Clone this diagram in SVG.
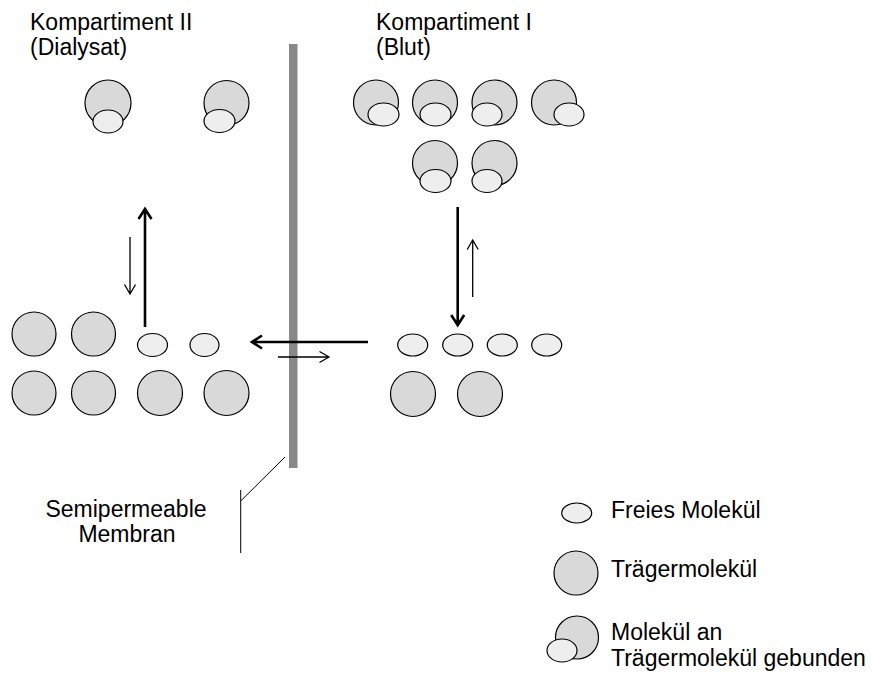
<svg xmlns="http://www.w3.org/2000/svg" width="872" height="677" viewBox="0 0 872 677">
<defs>
<style>
text{font-family:"Liberation Sans",Arial,sans-serif;font-size:23px;fill:#000}
.c{fill:#d9d9d9;stroke:#000;stroke-width:1.2}
.e{fill:#eeeeee;stroke:#000;stroke-width:1.2}
.thick{stroke:#000;stroke-width:2.6;fill:none}
.thin{stroke:#000;stroke-width:1.3;fill:none}
</style>
</defs>
<rect width="872" height="677" fill="#fff"/>
<g id="membrane"><rect x="289" y="44" width="8.5" height="424" fill="#888"/></g>
<g id="labels">
<text x="30" y="30">Kompartiment II</text>
<text x="30" y="55">(Dialysat)</text>
<text x="376" y="30">Kompartiment I</text>
<text x="376" y="55">(Blut)</text>
<text x="126" y="517" text-anchor="middle">Semipermeable</text>
<text x="127" y="542" text-anchor="middle">Membran</text>
</g>
<g id="left-bound">
<circle class="c" cx="108" cy="103" r="23"/><ellipse class="e" cx="108" cy="121.5" rx="15" ry="11.5"/>
<circle class="c" cx="226.5" cy="103" r="22.5"/><ellipse class="e" cx="219.5" cy="121" rx="15.5" ry="11.5"/>
</g>
<g id="right-bound">
<circle class="c" cx="376" cy="102.5" r="22.5"/><ellipse class="e" cx="383.5" cy="114.5" rx="15.5" ry="11.5"/>
<circle class="c" cx="435" cy="102.5" r="22.5"/><ellipse class="e" cx="435.5" cy="114.5" rx="15.5" ry="11.5"/>
<circle class="c" cx="494.5" cy="102.5" r="22.5"/><ellipse class="e" cx="487" cy="114.5" rx="15" ry="11.5"/>
<circle class="c" cx="554" cy="102.5" r="22.5"/><ellipse class="e" cx="569" cy="114.5" rx="15" ry="11.5"/>
<circle class="c" cx="435" cy="163" r="22.5"/><ellipse class="e" cx="435.5" cy="181" rx="15.5" ry="11.5"/>
<circle class="c" cx="494.5" cy="163" r="22.5"/><ellipse class="e" cx="487" cy="181" rx="15" ry="11.5"/>
</g>
<g id="left-free">
<circle class="c" cx="34" cy="334" r="22"/>
<circle class="c" cx="93.5" cy="334" r="22"/>
<ellipse class="e" cx="152.5" cy="345" rx="15" ry="11.5"/>
<ellipse class="e" cx="204.5" cy="345" rx="14.5" ry="11.5"/>
<circle class="c" cx="34" cy="393" r="22"/>
<circle class="c" cx="93.5" cy="393" r="22"/>
<circle class="c" cx="160" cy="393" r="22.5"/>
<circle class="c" cx="226.5" cy="393" r="22.5"/>
</g>
<g id="right-free">
<ellipse class="e" cx="412.7" cy="345" rx="15" ry="11"/>
<ellipse class="e" cx="457.7" cy="345" rx="15" ry="11"/>
<ellipse class="e" cx="502.3" cy="345" rx="15" ry="11"/>
<ellipse class="e" cx="546.7" cy="345" rx="15" ry="11"/>
<circle class="c" cx="413" cy="394" r="22.5"/>
<circle class="c" cx="480" cy="394" r="22.5"/>
</g>
<g id="connectors">
<path class="thick" d="M145 327V209M138.5 219L145 209L151.5 219"/>
<path class="thin" d="M130 237V294M124.5 284.5L130 294L135.5 284.5"/>
<path class="thick" d="M457.7 207V325M451.2 315L457.7 325L464.2 315"/>
<path class="thin" d="M472.7 297V240M467.2 249.5L472.7 240L478.2 249.5"/>
<path class="thick" d="M368 342H252M262 335.5L252 342L262 348.5"/>
<path class="thin" d="M278 357H329M319.5 351.5L329 357L319.5 362.5"/>
<path d="M285 457L240.7 501M240.7 490V553" stroke="#000" stroke-width="1" fill="none"/>
</g>
<g id="legend-free"><ellipse class="e" cx="576.7" cy="513" rx="15" ry="10"/><text x="611" y="518">Freies Molekül</text></g>
<g id="legend-carrier"><circle class="c" cx="576" cy="573" r="22"/><text x="611" y="577">Trägermolekül</text></g>
<g id="legend-bound"><circle class="c" cx="577" cy="637.5" r="21.5"/><ellipse class="e" cx="562" cy="650.5" rx="15" ry="11.5"/><text x="611" y="640">Molekül an</text><text x="611" y="666">Trägermolekül gebunden</text></g>
</svg>
